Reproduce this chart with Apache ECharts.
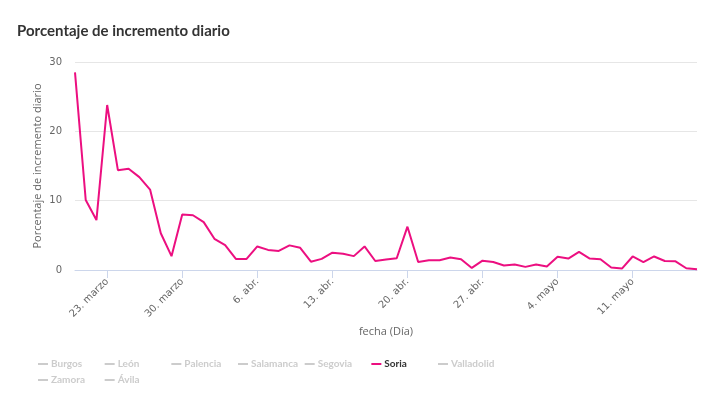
<!DOCTYPE html>
<html>
<head>
<meta charset="utf-8">
<script src="https://cdn.jsdelivr.net/npm/echarts@6/dist/echarts.min.js"></script>
<style>
  html, body { margin: 0; padding: 0; background: #fff; }
  #chart { width: 714px; height: 399px; }
</style>
</head>
<body>
<div id="chart"></div>
<script>
// serie diaria de Soria, 20 marzo -> 17 mayo
var startDay = 20, startMonth = 2;
var monthNames = ['ene.', 'feb.', 'marzo', 'abr.', 'mayo', 'jun.'];
var monthDays = [31, 29, 31, 30, 31, 30];
var provincias = ['Burgos', 'León', 'Palencia', 'Salamanca', 'Segovia', 'Soria', 'Valladolid', 'Zamora', 'Ávila'];
var soria = [
    28.5, 10.1, 7.2, 23.8, 14.4, 14.6, 13.4, 11.6, 5.3, 2.0, 8.0, 7.9,
    6.9, 4.5, 3.6, 1.6, 1.6, 3.4, 2.9, 2.75, 3.55, 3.2, 1.2, 1.6, 2.5, 2.35, 2.0, 3.4,
    1.3, 1.5, 1.7, 6.25, 1.15, 1.4, 1.4, 1.8, 1.55, 0.3, 1.35, 1.15, 0.65, 0.8,
    0.45, 0.8, 0.5, 1.9, 1.65, 2.6, 1.65, 1.55, 0.35, 0.2, 1.95, 1.15, 1.95, 1.3, 1.25, 0.25, 0.1
];

var fechas = [];
var d = startDay, m = startMonth;
for (var i = 0; i < soria.length; i++) {
    fechas.push(d + '. ' + monthNames[m]);
    d++;
    if (d > monthDays[m]) { d = 1; m++; }
}

var axisFont = 'DejaVu Sans, sans-serif';
var tickEvery = function (idx) { return (idx - 3) % 7 === 0; };

var legends = provincias.map(function (name, i) {
    var sel = {};
    sel[name] = name === 'Soria';
    return {
        data: [name],
        left: 38 + (i % 7) * 66.67,
        top: 359 + Math.floor(i / 7) * 16,
        icon: 'rect',
        itemWidth: 10,
        itemHeight: 2,
        itemGap: 0,
        padding: 0,
        selected: sel,
        inactiveColor: '#cccccc',
        textStyle: {
            fontFamily: 'Lato, sans-serif',
            fontSize: 10,
            fontWeight: 'bold',
            color: '#333333',
            padding: [0, 0, 0, -2]
        }
    };
});

var series = provincias.map(function (name) {
    return {
        name: name,
        type: 'line',
        data: name === 'Soria' ? soria : [],
        showSymbol: false,
        symbol: 'none',
        lineStyle: { width: 2, color: '#ec0f80' },
        itemStyle: { color: name === 'Soria' ? '#ec0f80' : '#cccccc' }
    };
});

var myChart = echarts.init(document.getElementById('chart'));
var option = {
    animation: false,
    title: {
        text: 'Porcentaje de incremento diario',
        left: 12,
        top: 19,
        textStyle: { fontFamily: 'Lato, sans-serif', fontSize: 15, fontWeight: 'bold', color: '#333333' }
    },
    legend: legends,
    grid: { left: 75, right: 17, top: 62, bottom: 129 },
    xAxis: {
        type: 'category',
        data: fechas,
        boundaryGap: false,
        name: 'fecha (Día)',
        nameLocation: 'middle',
        nameGap: 56,
        nameMoveOverlap: false,
        nameTextStyle: { fontFamily: 'Open Sans, sans-serif', fontSize: 11, color: '#666666' },
        axisLine: { lineStyle: { color: '#ccd6eb', width: 1 } },
        axisTick: { show: true, length: 8, lineStyle: { color: '#ccd6eb' }, interval: tickEvery, alignWithLabel: true },
        axisLabel: {
            interval: tickEvery,
            rotate: 45,
            margin: 10,
            fontFamily: axisFont,
            fontSize: 10,
            color: '#666666'
        },
        splitLine: { show: false }
    },
    yAxis: {
        type: 'value',
        min: 0,
        max: 30,
        interval: 10,
        name: 'Porcentaje de incremento diario',
        nameLocation: 'middle',
        nameGap: 32,
        nameMoveOverlap: false,
        nameTextStyle: { fontFamily: 'Open Sans, sans-serif', fontSize: 11, color: '#666666' },
        axisLine: { show: false },
        axisTick: { show: false },
        axisLabel: { margin: 13, fontFamily: axisFont, fontSize: 10, color: '#666666' },
        splitLine: { lineStyle: { color: '#e6e6e6', width: 1 } }
    },
    series: series
};
myChart.setOption(option);
</script>
</body>
</html>
